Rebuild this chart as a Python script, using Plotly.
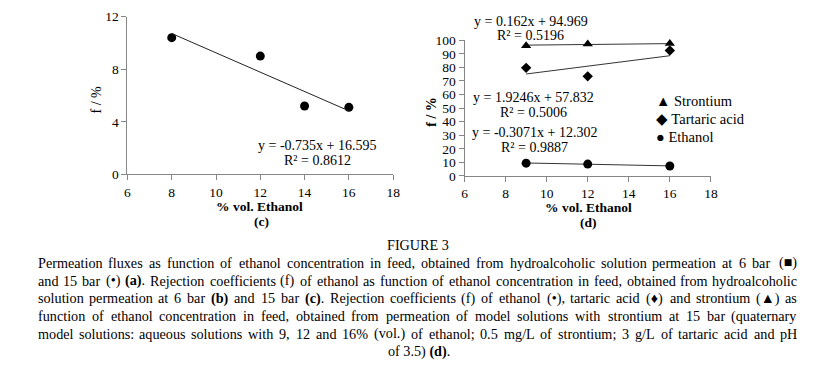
import plotly.graph_objects as go

# ---------------- data ----------------
c_x = [8, 12, 14, 16]
c_f = [10.4, 9.0, 5.2, 5.1]
c_fit = (-0.735, 16.595)
c_eq = ["y = -0.735x + 16.595", "R² = 0.8612"]

d_x = [9, 12, 16]
d_names = ["Strontium", "Tartaric acid", "Ethanol"]
d_symbols = ["triangle-up", "diamond", "circle"]
d_glyphs = ["▲", "◆", "●"]
d_strontium = [96.0, 97.2, 97.7]
d_tartaric = [79.7, 73.4, 92.5]
d_ethanol = [9.4, 8.7, 7.3]
d_fits = [(0.162, 94.969), (1.9246, 57.832), (-0.3071, 12.302)]
d_eqs = [["y = 0.162x + 94.969", "R² = 0.5196"],
         ["y = 1.9246x + 57.832", "R² = 0.5006"],
         ["y = -0.3071x + 12.302", "R² = 0.9887"]]

x_ticks = [6, 8, 10, 12, 14, 16, 18]
c_yticks = [0, 4, 8, 12]
d_yticks = list(range(0, 101, 10))

x_title = "% vol. Ethanol"
y_title = "f / %"

caption_title = "FIGURE 3"
caption_lines = [
    "Permeation fluxes as function of ethanol concentration in feed, obtained from hydroalcoholic solution permeation at 6 bar (■)",
    "and 15 bar (•) *(a)*. Rejection coefficients (f) of ethanol as function of ethanol concentration in feed, obtained from hydroalcoholic",
    "solution permeation at 6 bar *(b)* and 15 bar *(c)*. Rejection coefficients (f) of ethanol (•), tartaric acid (♦) and strontium (▲) as",
    "function of ethanol concentration in feed, obtained from permeation of model solutions with strontium at 15 bar (quaternary",
    "model solutions: aqueous solutions with 9, 12 and 16% (vol.) of ethanol; 0.5 mg/L of strontium; 3 g/L of tartaric acid and pH",
]
caption_last = "of 3.5) *(d)*."

W, H = 813, 372
FONT = "Liberation Serif, Times New Roman, serif"
AXC = "#868686"

fig = go.Figure()

# ---------------- chart (c) ----------------
fig.add_trace(go.Scatter(x=c_x, y=c_f, mode="markers", xaxis="x", yaxis="y",
                         marker=dict(symbol="circle", size=9, color="black"),
                         showlegend=False, cliponaxis=False))
cx0, cx1 = min(c_x), max(c_x)
fig.add_trace(go.Scatter(x=[cx0, cx1], y=[c_fit[0] * cx0 + c_fit[1], c_fit[0] * cx1 + c_fit[1]],
                         mode="lines", xaxis="x", yaxis="y", line=dict(color="#222", width=1),
                         showlegend=False))

# ---------------- chart (d) ----------------
d_series = [d_strontium, d_tartaric, d_ethanol]
for name, sym, vals, fit in zip(d_names, d_symbols, d_series, d_fits):
    x0, x1 = min(d_x), max(d_x)
    fig.add_trace(go.Scatter(x=[x0, x1], y=[fit[0] * x0 + fit[1], fit[0] * x1 + fit[1]],
                             mode="lines", xaxis="x2", yaxis="y2",
                             line=dict(color="#333", width=1), showlegend=False))
    fig.add_trace(go.Scatter(x=d_x, y=vals, mode="markers", name=name, xaxis="x2", yaxis="y2",
                             marker=dict(symbol=sym, size=9 if sym != "diamond" else 8, color="black"),
                             showlegend=False, cliponaxis=False))


def px2x(p):
    return p / W


def px2y(p):
    return 1 - p / H


axis_common = dict(showgrid=False, zeroline=False, showline=True, linecolor=AXC, linewidth=1,
                   ticks="outside", ticklen=5, tickcolor=AXC, tickwidth=1,
                   tickfont=dict(family=FONT, size=13.5, color="black"))

fig.update_layout(
    width=W, height=H, margin=dict(l=0, r=0, t=0, b=0),
    paper_bgcolor="white", plot_bgcolor="white",
    font=dict(family=FONT, color="black"),
    xaxis=dict(domain=[px2x(126), px2x(395)], range=[6, 18], tickvals=x_ticks, anchor="y",
               **axis_common),
    yaxis=dict(domain=[px2y(174.5), px2y(10)], range=[0, 12], tickvals=c_yticks, anchor="x",
               **axis_common),
    xaxis2=dict(domain=[px2x(467.3), px2x(716.7)], range=[6, 18], tickvals=x_ticks, anchor="y2",
                **axis_common),
    yaxis2=dict(domain=[px2y(176), px2y(34.7)], range=[0, 100], tickvals=d_yticks, anchor="x2",
                **axis_common),
    showlegend=False,
)

ann = []
DY = 1.5  # small shift so the visual centre of glyphs matches


def add_text(xp, yp, text, size=14, xanchor="center", angle=0):
    ann.append(dict(x=px2x(xp), y=px2y(yp + DY), xref="paper", yref="paper", text=text,
                    xanchor=xanchor, yanchor="middle", showarrow=False, textangle=angle,
                    borderpad=0, borderwidth=0,
                    font=dict(family=FONT, size=size, color="black")))


# axis titles
add_text(95, 95, y_title, angle=-90)
add_text(433, 108, "<b>%s</b>" % y_title, angle=-90)
add_text(260, 206, "<b>%s</b>" % x_title, size=13.5)
add_text(593, 207.5, "<b>%s</b>" % x_title, size=13.5)

# panel labels
add_text(262, 221.7, "<b>(c)</b>", size=13.5)
add_text(593, 223.2, "<b>(d)</b>", size=13.5)

# equations chart c
add_text(318, 143.3, c_eq[0])
add_text(318, 158.3, c_eq[1])

# equations chart d
eq_pos = [(534.5, 13.3, 28.3), (536.7, 92.3, 108.3), (538.5, 129.3, 145)]
for (ex, ey1, ey2), eq in zip(eq_pos, d_eqs):
    add_text(ex, ey1, eq[0])
    add_text(ex, ey2, eq[1])

# legend (chart d)
for i, (g, name) in enumerate(zip(d_glyphs, d_names)):
    ypix = 96.7 + i * 18.8
    add_text(661, ypix, g + " " + name, size=14.5, xanchor="left")

# ---------------- caption ----------------
TW = {' ': 250, '!': 333, '%': 833, '&': 778, '(': 333, ')': 333, '*': 500, '+': 564, ',': 250,
      '-': 333, '.': 250, '/': 278, ':': 278, ';': 278, '=': 564, '?': 444,
      'A': 722, 'B': 667, 'C': 667, 'D': 722, 'E': 611, 'F': 556, 'G': 722, 'H': 722, 'I': 333,
      'J': 389, 'K': 722, 'L': 611, 'M': 889, 'N': 722, 'O': 722, 'P': 556, 'Q': 722, 'R': 667,
      'S': 556, 'T': 611, 'U': 722, 'V': 722, 'W': 944, 'X': 722, 'Y': 722, 'Z': 611,
      'a': 444, 'b': 500, 'c': 444, 'd': 500, 'e': 444, 'f': 333, 'g': 500, 'h': 500, 'i': 278,
      'j': 278, 'k': 500, 'l': 278, 'm': 778, 'n': 500, 'o': 500, 'p': 500, 'q': 500, 'r': 333,
      's': 389, 't': 278, 'u': 500, 'v': 500, 'w': 722, 'x': 500, 'y': 500, 'z': 444,
      '■': 770, '•': 350, '♦': 626, '▲': 1000}
TWB = {'(': 333, ')': 333, 'a': 500, 'b': 556, 'c': 444, 'd': 556}
for d in "0123456789":
    TW[d] = 500


def word_info(word):
    parts = word.split("*")
    html, width = "", 0.0
    for k, p in enumerate(parts):
        bold = k % 2 == 1
        for ch in p:
            width += (TWB.get(ch, TW.get(ch, 500)) if bold else TW.get(ch, 500))
        html += ("<b>%s</b>" % p) if bold else p
    return html, width / 1000.0


CAP_FS = 14.2
LEFT, RIGHT = 35.0, 804.0
line_y0, line_dy = 265.0, 18.5

add_text(420, 246.5, caption_title, size=CAP_FS)

for li, line in enumerate(caption_lines):
    words = line.split(" ")
    infos = [word_info(w) for w in words]
    total = sum(wd for _, wd in infos) * CAP_FS
    gap = (RIGHT - LEFT - total) / (len(words) - 1)
    xpos = LEFT
    ypix = line_y0 + li * line_dy
    for wi, (html, wd) in enumerate(infos):
        if wi == len(infos) - 1:
            add_text(RIGHT, ypix, html, size=CAP_FS, xanchor="right")
        else:
            add_text(xpos, ypix, html, size=CAP_FS, xanchor="left")
        xpos += wd * CAP_FS + gap

add_text(421, line_y0 + 5 * line_dy, caption_last.replace("*(d)*", "<b>(d)</b>"), size=CAP_FS)

fig.update_layout(annotations=ann)
fig.write_html("out.html", config={"displayModeBar": False},
               post_script="document.body.style.margin='0';document.body.style.overflow='hidden';")
